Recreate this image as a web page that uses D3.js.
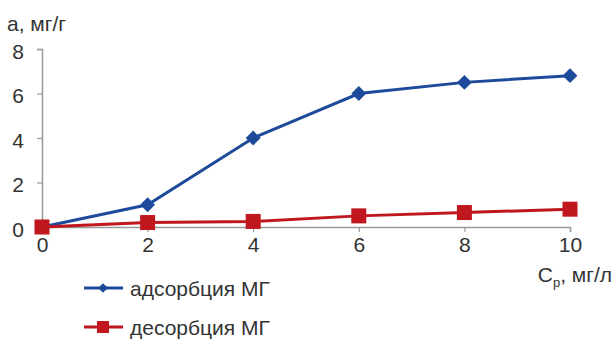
<!DOCTYPE html>
<html><head><meta charset="utf-8">
<script src="https://cdn.jsdelivr.net/npm/d3@7"></script>
<style>
body{margin:0;background:#fff}
text{font-family:"Liberation Sans",Arial,sans-serif;fill:#333}
</style></head>
<body><svg id="c" width="615" height="341"></svg>
<script>
const xValues=[0,2,4,6,8,10];
const adsorption=[0,1.0,4.0,6.0,6.5,6.8];
const desorption=[0,0.2,0.25,0.5,0.65,0.8];
const xTicks=[0,2,4,6,8,10];
const yTicks=[0,2,4,6,8];
const seriesNames=["адсорбция МГ","десорбция МГ"];
const colors=["#1d4a9a","#c0171f"];

const svg=d3.select("#c");
const x=d3.scaleLinear().domain([0,10]).range([42,570]);
const y=d3.scaleLinear().domain([0,8]).range([227,49]);

const axisColor="#999";
const gx=svg.append("g").attr("transform","translate(0,"+y(0)+")")
  .call(d3.axisBottom(x).tickValues(xTicks).tickSize(5).tickPadding(3));
const gy=svg.append("g").attr("transform","translate("+x(0)+",0)")
  .call(d3.axisLeft(y).tickValues(yTicks).tickSize(5).tickPadding(6));
[gx,gy].forEach(g=>{
  g.select(".domain").attr("stroke",axisColor).attr("stroke-width",1.5);
  g.selectAll(".tick line").attr("stroke",axisColor).attr("stroke-width",1.2);
  g.selectAll(".tick text").style("font-size","21px").attr("fill","#333");
});
gy.selectAll(".tick text").attr("dx","-7").attr("dy","0.45em");
gx.selectAll(".tick text").attr("dy","0.8em");

const line=d3.line().x((d,i)=>x(xValues[i])).y(d=>y(d));
const series=[adsorption,desorption];
series.forEach((s,k)=>{
  svg.append("path").datum(s).attr("d",line).attr("fill","none")
    .attr("stroke",colors[k]).attr("stroke-width",3);
});
svg.selectAll(".dia").data(adsorption).enter().append("path")
  .attr("d",d3.symbol(d3.symbolDiamond2,140)())
  .attr("transform",(d,i)=>"translate("+x(xValues[i])+","+y(d)+")")
  .attr("fill",colors[0]);
svg.selectAll(".sq").data(desorption).enter().append("rect")
  .attr("x",(d,i)=>x(xValues[i])-7.5).attr("y",d=>y(d)-7.5)
  .attr("width",15).attr("height",15).attr("fill",colors[1]);

svg.append("text").attr("x",7).attr("y",31).style("font-size","21px").text("а, мг/г");
const xl=svg.append("text").attr("x",612).attr("y",282).attr("text-anchor","end").style("font-size","21px");
xl.append("tspan").text("C");
xl.append("tspan").attr("dy",5).style("font-size","13px").text("р");
xl.append("tspan").attr("dy",-5).text(", мг/л");

seriesNames.forEach((n,k)=>{
  const ly=[288,327][k];
  svg.append("line").attr("x1",84).attr("x2",123).attr("y1",ly).attr("y2",ly)
    .attr("stroke",colors[k]).attr("stroke-width",3);
  if(k===0){
    svg.append("path").attr("d",d3.symbol(d3.symbolDiamond2,60)())
      .attr("transform","translate(103,"+ly+")").attr("fill",colors[0]);
  } else {
    svg.append("rect").attr("x",97).attr("y",ly-6).attr("width",12).attr("height",12).attr("fill",colors[1]);
  }
  svg.append("text").attr("x",130).attr("y",ly+8).style("font-size","21px").text(n);
});
</script></body></html>
